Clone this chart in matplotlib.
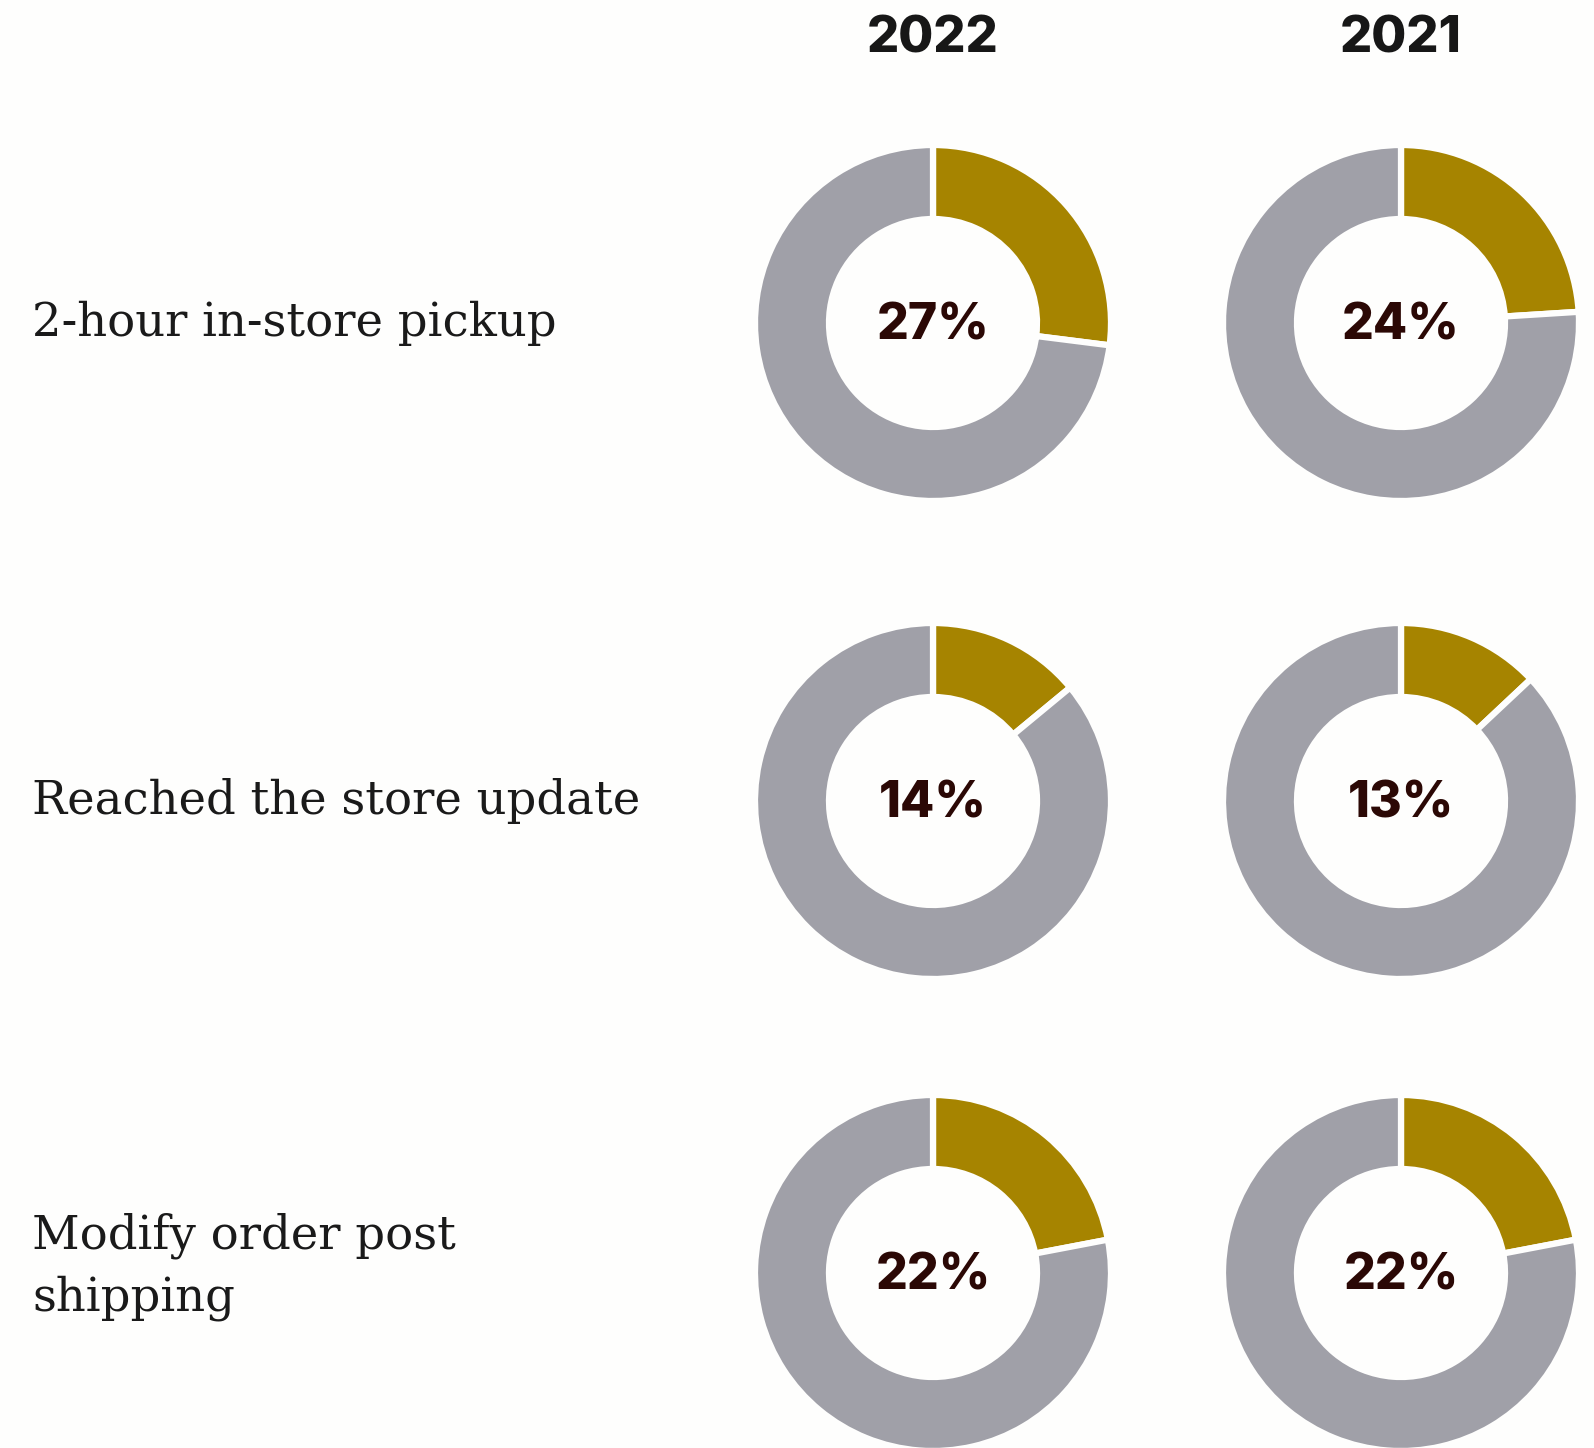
import matplotlib
matplotlib.use("Agg")
import matplotlib.pyplot as plt

W, H = 1594, 1448
years = ["2022", "2021"]
categories = ["2-hour in-store pickup", "Reached the store update", "Modify order post\nshipping"]
values_2022 = [27, 14, 22]
values_2021 = [24, 13, 22]
series = [values_2022, values_2021]

GOLD = "#A68400"
GREY = "#A0A0A8"
LABEL = "#2B0805"
BG = "#FEFEFD"

col_x = [933, 1401]
row_y = [323, 801, 1273]
r_outer = 178
width = 74

fig = plt.figure(figsize=(W / 100, H / 100), dpi=100, facecolor=BG)
ax = fig.add_axes([0, 0, 1, 1])
ax.set_facecolor(BG)

for ci, vals in enumerate(series):
    for ri, v in enumerate(vals):
        cx, cy = col_x[ci], H - row_y[ri]
        ax.pie([v, 100 - v], colors=[GOLD, GREY], startangle=90, counterclock=False,
               center=(cx, cy), radius=r_outer,
               wedgeprops=dict(width=width, edgecolor=BG, linewidth=4.5, joinstyle="round"))
        ax.text(cx, cy + 2, f"{v}%", ha="center", va="center_baseline", fontsize=36,
                fontweight=800, family=["Inter", "DejaVu Sans"], color=LABEL)

for ci, y in enumerate(years):
    ax.text(col_x[ci], H - 39, y, ha="center", va="center", fontsize=36.5,
            fontweight=800, family=["Inter", "DejaVu Sans"], color="#171717")

for ri, c in enumerate(categories):
    ax.text(32, H - row_y[ri] - (0 if "\n" not in c else -6), c, ha="left", va="center",
            fontsize=33.5, family=["DejaVu Serif"], color="#1a1a1a", linespacing=1.45)

ax.set_xlim(0, W)
ax.set_ylim(0, H)
ax.set_aspect("equal")
ax.axis("off")
fig.savefig("out.png", dpi=100, facecolor=BG)
